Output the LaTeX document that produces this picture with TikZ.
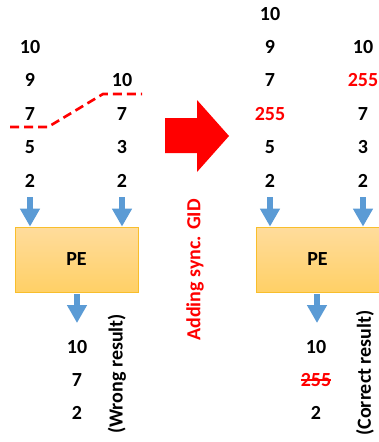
\documentclass[tikz,border=0pt]{standalone}
\usepackage{fontspec}
\setmainfont{Carlito}
\usetikzlibrary{arrows.meta}
\definecolor{pblue}{HTML}{5B9BD5}
\definecolor{boxtop}{HTML}{FFDC9C}
\definecolor{boxbot}{HTML}{FFD066}
\definecolor{boxline}{HTML}{F8BE2C}
\begin{document}
\begin{tikzpicture}[x=1pt,y=-1pt,
  num/.style={font=\fontsize{20}{24}\selectfont\bfseries, inner sep=0pt, text=black},
  rednum/.style={num, text=red},
  pebox/.style={draw=boxline, line width=0.8pt, top color=boxtop, bottom color=boxbot,
     minimum width=123pt, minimum height=65pt, inner sep=0pt,
     font=\fontsize{20}{24}\selectfont\bfseries},
  flow/.style={pblue, line width=6pt, -{Triangle[width=19pt,length=18pt]}},
  sidelabel/.style={font=\fontsize{20}{24}\selectfont\bfseries, rotate=90, inner sep=0pt},
  gid/.style={red, line width=2.6pt, dash pattern=on 9pt off 5pt}]
\useasboundingbox (0,0) rectangle (378,442);
% left input columns
\node[num] (a1) at (30,47) {10};
\node[num] (a2) at (30,80) {9};
\node[num] (a3) at (30,114) {7};
\node[num] (a4) at (30,147) {5};
\node[num] (a5) at (30,181) {2};
\node[num] (b1) at (122,80) {10};
\node[num] (b2) at (122,114) {7};
\node[num] (b3) at (122,147) {3};
\node[num] (b4) at (122,181) {2};
% dashed separator
\coordinate (d1) at (10,127);
\coordinate (d2) at (48,127);
\coordinate (d3) at (103,94);
\coordinate (d4) at (142,94);
\draw[gid] (d1) -- (d2) -- (d3) -- (d4);
% left PE
\node[pebox] (pe1) at (76.5,259.5) {PE};
\coordinate (sa) at (30,197);
\coordinate (sb) at (122,197);
\draw[flow] (sa) -- (sa |- pe1.north);
\draw[flow] (sb) -- (sb |- pe1.north);
\coordinate (oa) at (77,294);
\node[num] (o1) at (77,347) {10};
\node[num] (o2) at (77,380) {7};
\node[num] (o3) at (77,413) {2};
\draw[flow] (oa) -- (77,323);
\node[sidelabel] (wr) at (117,374) {(Wrong result)};
% big red arrow
\fill[red] (165,118) -- (197,118) -- (197,100) -- (229,136) -- (197,172) -- (197,153) -- (165,153) -- cycle;
\node[sidelabel, text=red] (gidl) at (195,270) {Adding sync. GID};
% right input columns
\node[num] (c1) at (270,14) {10};
\node[num] (c2) at (270,47) {9};
\node[num] (c3) at (270,80) {7};
\node[rednum] (c4) at (270,114) {255};
\node[num] (c5) at (270,147) {5};
\node[num] (c6) at (270,181) {2};
\node[num] (e1) at (363,47) {10};
\node[rednum] (e2) at (363,80) {255};
\node[num] (e3) at (363,114) {7};
\node[num] (e4) at (363,147) {3};
\node[num] (e5) at (363,181) {2};
% right PE
\node[pebox] (pe2) at (317.5,259.5) {PE};
\coordinate (sc) at (270,197);
\coordinate (se) at (363,197);
\draw[flow] (sc) -- (sc |- pe2.north);
\draw[flow] (se) -- (se |- pe2.north);
\coordinate (oc) at (317,294);
\draw[flow] (oc) -- (317,323);
\node[num] (r1) at (316,347) {10};
\node[rednum] (r2) at (316,380) {255};
\node[num] (r3) at (316,413) {2};
\draw[red, line width=1.8pt] (r2.west) -- (r2.east);
\node[sidelabel] (cr) at (365,373) {(Correct result)};
\end{tikzpicture}
\end{document}
